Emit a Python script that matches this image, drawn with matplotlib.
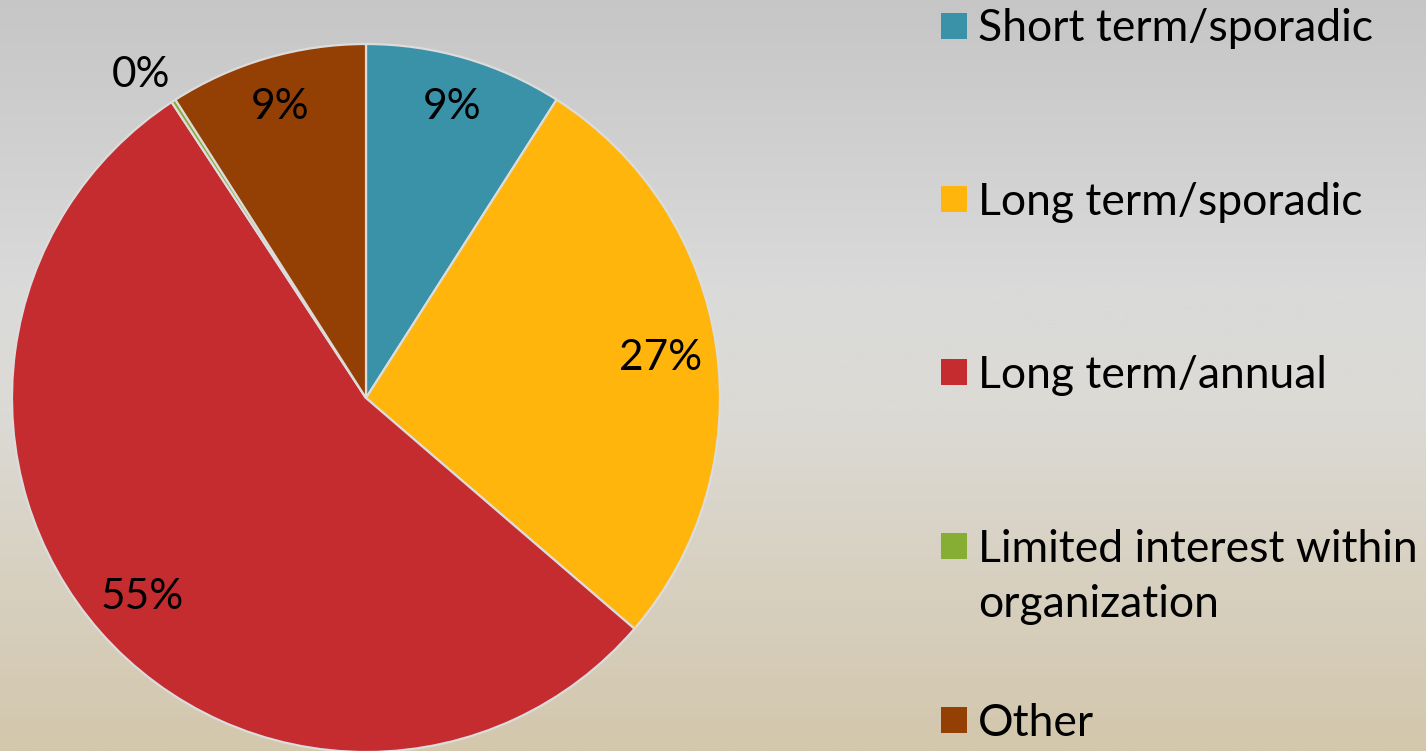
import numpy as np
import matplotlib
matplotlib.use("Agg")
import matplotlib.pyplot as plt
from matplotlib.patches import Rectangle
from matplotlib.colors import LinearSegmentedColormap

# ── Data ──────────────────────────────────────────────────────────────────────
categories = [
    "Short term/sporadic",
    "Long term/sporadic",
    "Long term/annual",
    "Limited interest within\norganization",
    "Other",
]
shares     = [9.05, 27.25, 54.45, 0.2, 9.05]
pct_labels = ["9%", "27%", "55%", "0%", "9%"]
colors     = ["#3a92a9", "#ffb50b", "#c42c2f", "#86ad34", "#943f03"]

W, H = 1426, 751
FONT = "Lato"
CAP = 0.7165  # Lato cap height / em

fig = plt.figure(figsize=(W / 100, H / 100), dpi=100)

# ── Background gradient ───────────────────────────────────────────────────────
bg = fig.add_axes([0, 0, 1, 1], zorder=-1)
grad_cmap = LinearSegmentedColormap.from_list(
    "bg", [(0.0, "#c6c6c6"), (0.38, "#dadada"), (0.55, "#dcdad5"), (1.0, "#d3c7ac")]
)
bg.imshow(np.linspace(0, 1, 256)[:, None], aspect="auto", cmap=grad_cmap,
          extent=[0, 1, 0, 1], origin="upper")
bg.axis("off")

# ── Pie ───────────────────────────────────────────────────────────────────────
cx, cy, R = 366, 398, 354
ax = fig.add_axes([(cx - R) / W, (H - cy - R) / H, 2 * R / W, 2 * R / H])
ax.patch.set_alpha(0)

wedges, _ = ax.pie(
    shares, colors=colors, startangle=90, counterclock=False,
    wedgeprops=dict(edgecolor="#dcdcdc", linewidth=1.6),
)
ax.set_xlim(-1, 1)
ax.set_ylim(-1, 1)
ax.set_aspect("equal")
ax.axis("off")

pct_fs = 30.5
half_cap = CAP * pct_fs * 100 / 72 / 2 / R   # in data units
for i, (w, lab) in enumerate(zip(wedges, pct_labels)):
    mid = np.deg2rad((w.theta1 + w.theta2) / 2)
    r = 0.865 if shares[i] < 15 else 0.84
    if shares[i] < 1:          # tiny slice: label sits outside the pie
        mid += np.deg2rad(1.6)
        r = 1.12
    ax.text(r * np.cos(mid), r * np.sin(mid) - half_cap, lab,
            ha="center", va="baseline", fontsize=pct_fs, family=FONT, color="black")

# ── Legend (manual, PowerPoint-style spacing) ─────────────────────────────────
row_y = [25.5, 199, 372, 546, 720]
sq = 26
leg_fs = 32
line_step = 55
cap_px = CAP * leg_fs * 100 / 72
for y, name, col in zip(row_y, categories, colors):
    fig.patches.append(Rectangle((941 / W, (H - y - sq / 2) / H), sq / W, sq / H,
                                 transform=fig.transFigure, facecolor=col,
                                 edgecolor="none"))
    for k, line in enumerate(name.split("\n")):
        fig.text(978 / W, (H - y - cap_px / 2 - k * line_step) / H, line,
                 ha="left", va="baseline", fontsize=leg_fs, family=FONT, color="black")

fig.savefig("out.png", dpi=100)
